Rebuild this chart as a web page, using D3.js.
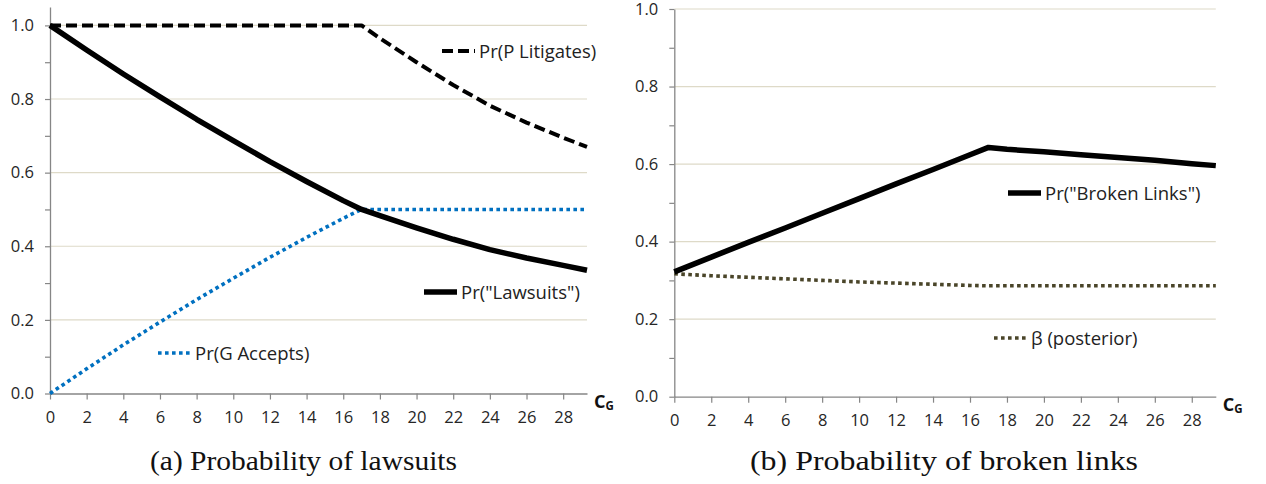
<!DOCTYPE html>
<html>
<head>
<meta charset="utf-8">
<script src="https://cdn.jsdelivr.net/npm/d3@7"></script>
<style>
  body { margin: 0; background: #fff; }
  text { font-family: "Open Sans", Lato, sans-serif; }
</style>
</head>
<body>
<script>
// x values (C_G) shared by every series
var cg = [0, 2, 4, 6, 8, 10, 12, 14, 16, 17, 18, 20, 22, 24, 26, 28, 29.3];

// (a) probability of lawsuits
var pLitigates = [1, 1, 1, 1, 1, 1, 1, 1, 1, 1, 0.965, 0.90, 0.838, 0.782, 0.736, 0.695, 0.670];
var lawsuits   = [1.0, 0.933, 0.868, 0.806, 0.745, 0.687, 0.630, 0.576, 0.524, 0.5, 0.483, 0.45, 0.419, 0.391, 0.368, 0.348, 0.335];
var gAccepts   = [0, 0.067, 0.132, 0.194, 0.255, 0.313, 0.370, 0.424, 0.476, 0.5, 0.5, 0.5, 0.5, 0.5, 0.5, 0.5, 0.5];

// (b) probability of broken links
var brokenLinks = [0.322, 0.360, 0.398, 0.435, 0.473, 0.511, 0.549, 0.586, 0.624, 0.643, 0.638, 0.632, 0.624, 0.617, 0.610, 0.601, 0.596];
var betaPost    = [0.317, 0.312, 0.308, 0.304, 0.300, 0.296, 0.293, 0.290, 0.287, 0.286, 0.286, 0.286, 0.286, 0.286, 0.286, 0.286, 0.286];

var xTicks = d3.range(0, 29, 2);
var yTicks = d3.range(0, 1.001, 0.1);
var yGrid = [0.2, 0.4, 0.6, 0.8, 1.0];

var captions = ['(a) Probability of lawsuits', '(b) Probability of broken links'];

var styles = {
  litigates: { color: '#000', width: 4, dash: '11,5' },
  lawsuits:  { color: '#000', width: 5.5, dash: null },
  accepts:   { color: '#0070c0', width: 3.6, dash: '3.6,3.4' },
  broken:    { color: '#000', width: 5.5, dash: null },
  beta:      { color: '#4a4529', width: 3.6, dash: '3.6,3.4' }
};

var svg = d3.select('body')
            .append('svg')
            .attr('width', 1266)
            .attr('height', 484);

function drawPanel(opts){
  var g = svg.append('g');
  var xScale = d3.scaleLinear().domain([0, 29.3]).range(opts.xRange);
  var yScale = d3.scaleLinear().domain([0, opts.yMax]).range(opts.yRange);

  // gridlines
  g.append('g')
   .selectAll('line')
   .data(yGrid)
   .enter()
   .append('line')
   .attr('x1', xScale(0))
   .attr('x2', xScale(29.3))
   .attr('y1', function(d){ return yScale(d); })
   .attr('y2', function(d){ return yScale(d); })
   .attr('stroke', '#dedac8')
   .attr('stroke-width', 1.2);

  var yAxis = d3.axisLeft(yScale)
                .tickValues(yTicks)
                .tickSize(5)
                .tickSizeOuter(0)
                .tickPadding(11)
                .tickFormat(function(d){
                  return Math.round(d * 10) % 2 == 0 ? d3.format('.1f')(d) : '';
                });
  var xAxis = d3.axisBottom(xScale)
                .tickValues(xTicks)
                .tickSize(6)
                .tickSizeOuter(0)
                .tickPadding(12)
                .tickFormat(d3.format('d'));

  var ya = g.append('g')
            .attr('transform', 'translate(' + xScale(0) + ',0)')
            .call(yAxis);
  var xa = g.append('g')
            .attr('transform', 'translate(0,' + yScale(0) + ')')
            .call(xAxis);
  [ya, xa].forEach(function(a){
    a.select('.domain').attr('stroke', '#868686').attr('stroke-width', 1.3);
    a.selectAll('.tick line').attr('stroke', '#868686').attr('stroke-width', 1.2);
    a.selectAll('.tick text').attr('fill', '#262626').style('font-size', '16.5px');
  });

  // series
  var line = d3.line()
               .x(function(d){ return xScale(d[0]); })
               .y(function(d){ return yScale(d[1]); });
  opts.series.forEach(function(s){
    var st = styles[s.style];
    g.append('path')
     .datum(cg.map(function(c, i){ return [c, s.values[i]]; }))
     .attr('d', line)
     .attr('fill', 'none')
     .attr('stroke', st.color)
     .attr('stroke-width', st.width)
     .attr('stroke-dasharray', st.dash)
     .attr('stroke-linejoin', 'round');
  });

  // legends
  opts.series.forEach(function(s){
    var st = styles[s.style];
    var lg = g.append('g').attr('transform', 'translate(' + s.legend[0] + ',' + s.legend[1] + ')');
    lg.append('line')
      .attr('x1', 0).attr('x2', 33)
      .attr('y1', 0).attr('y2', 0)
      .attr('stroke', st.color)
      .attr('stroke-width', st.width)
      .attr('stroke-dasharray', st.dash);
    lg.append('text')
      .attr('x', 37)
      .attr('dy', '0.36em')
      .attr('fill', '#222')
      .style('font-size', '18.5px')
      .text(s.label);
  });

  // C_G axis title
  var t = g.append('text')
           .attr('x', xScale(29.3) + 7)
           .attr('y', yScale(0) + 14)
           .attr('fill', '#111')
           .style('font-weight', 'bold')
           .style('font-size', '18px')
           .text('C');
  t.append('tspan')
   .attr('dy', 2)
   .style('font-size', '11.5px')
   .text('G');

  svg.append('text')
     .attr('x', opts.captionX)
     .attr('y', 470)
     .attr('textLength', opts.captionW)
     .attr('lengthAdjust', 'spacingAndGlyphs')
     .style('font-family', '"Liberation Serif", "DejaVu Serif", serif')
     .style('font-size', '27px')
     .attr('fill', '#111')
     .text(opts.caption);
}

drawPanel({
  xRange: [50, 587],
  yRange: [393.5, 7],
  yMax: 1.05,
  caption: captions[0],
  captionX: 150,
  captionW: 307,
  series: [
    { values: pLitigates, style: 'litigates', label: 'Pr(P Litigates)', legend: [442, 51] },
    { values: gAccepts, style: 'accepts', label: 'Pr(G Accepts)', legend: [158, 353] },
    { values: lawsuits, style: 'lawsuits', label: 'Pr("Lawsuits")', legend: [424, 292] }
  ]
});

drawPanel({
  xRange: [674.3, 1215.8],
  yRange: [396.7, 9],
  yMax: 1,
  caption: captions[1],
  captionX: 750,
  captionW: 388,
  series: [
    { values: betaPost, style: 'beta', label: 'β (posterior)', legend: [994, 338] },
    { values: brokenLinks, style: 'broken', label: 'Pr("Broken Links")', legend: [1008, 193] }
  ]
});
</script>
</body>
</html>
